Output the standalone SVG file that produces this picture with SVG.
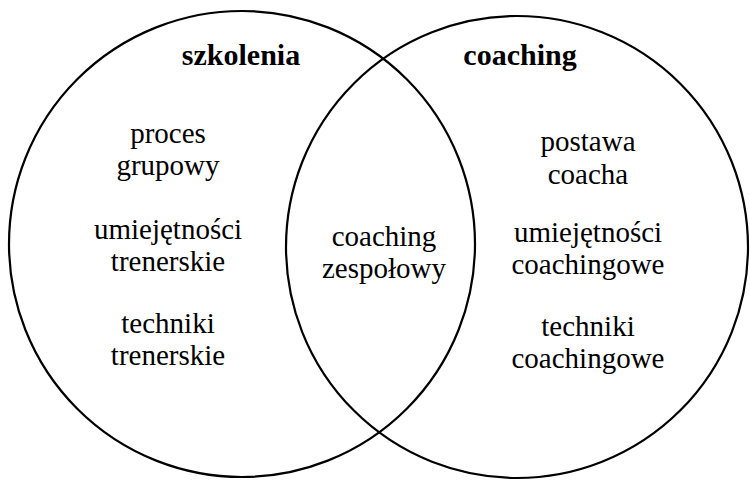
<svg xmlns="http://www.w3.org/2000/svg" width="750" height="481" viewBox="0 0 750 481">
<style>
.c{fill:none;stroke:#000;stroke-width:2.2}
text{font-family:"Liberation Serif","Times New Roman",serif;text-anchor:middle;fill:#000}
.t{font-size:29px}
.h{font-size:30px;font-weight:bold}
</style>
<rect width="750" height="481" fill="#fff"/>
<g id="szkolenia">
<circle class="c" cx="242" cy="244" r="233"/>
<text class="h" x="241" y="65">szkolenia</text>
<text class="t" x="168" y="143">proces</text>
<text class="t" x="168" y="175">grupowy</text>
<text class="t" x="168" y="239">umiejętności</text>
<text class="t" x="168" y="271">trenerskie</text>
<text class="t" x="168" y="333">techniki</text>
<text class="t" x="168" y="365">trenerskie</text>
</g>
<g id="coaching">
<circle class="c" cx="517" cy="247" r="231"/>
<text class="h" x="520" y="65">coaching</text>
<text class="t" x="588" y="151">postawa</text>
<text class="t" x="588" y="184">coacha</text>
<text class="t" x="588" y="242">umiejętności</text>
<text class="t" x="588" y="274">coachingowe</text>
<text class="t" x="588" y="336">techniki</text>
<text class="t" x="588" y="368">coachingowe</text>
</g>
<g id="zespolowy">
<text class="t" x="384" y="246">coaching</text>
<text class="t" x="384" y="278">zespołowy</text>
</g>
<g id="connectors"></g>
</svg>
